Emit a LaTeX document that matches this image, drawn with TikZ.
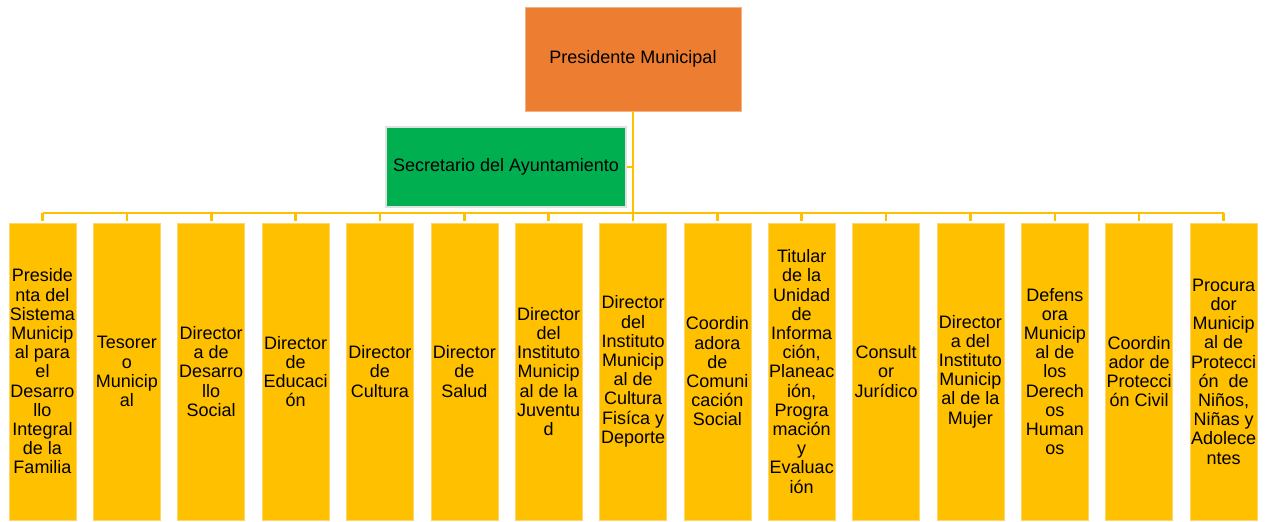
\documentclass[tikz,border=0pt]{standalone}
\usepackage{fontspec}
\setmainfont{Liberation Sans}
\usetikzlibrary{positioning}
\definecolor{orgorange}{RGB}{237,125,49}
\definecolor{orggreen}{RGB}{0,176,80}
\definecolor{orgyellow}{RGB}{255,192,0}
\definecolor{orgedge}{RGB}{255,214,110}

\begin{document}
\begin{tikzpicture}[x=1pt,y=-1pt,
    every node/.style={align=center,inner sep=0pt,font=\fontsize{18}{19.2}\selectfont},
    unitbox/.style={fill=orgyellow,draw=orgedge,line width=0.6pt,minimum width=67pt,minimum height=297pt},
    linkline/.style={draw=orgyellow,line width=2.6pt}]
  \useasboundingbox (0,0) rectangle (1267,522);
  \node[fill=orgorange,draw=orgorange!60!white,line width=0.6pt,minimum width=216pt,minimum height=104pt] (pres) at (633,59) {Presidente Municipal};
  \node[fill=orggreen,draw=black!12,line width=2pt,minimum width=240pt,minimum height=80pt] (secr) at (506,167) {Secretario del Ayuntamiento};
  \coordinate (hub) at (633,213);
  % direcciones
  \foreach \txt [count=\i] in {
      {Preside\\nta del\\Sistema\\Municip\\al para\\el\\Desarro\\llo\\Integral\\de la\\Familia},
      {Tesorer\\o\\Municip\\al},
      {Director\\a de\\Desarro\\llo\\Social},
      {Director\\de\\Educaci\\ón},
      {Director\\de\\Cultura},
      {Director\\de\\Salud},
      {Director\\del\\Instituto\\Municip\\al de la\\Juventu\\d},
      {Director\\del\\Instituto\\Municip\\al de\\Cultura\\Fisíca y\\Deporte},
      {Coordin\\adora\\de\\Comuni\\cación\\Social},
      {Titular\\de la\\Unidad\\de\\Informa\\ción,\\Planeac\\ión,\\Progra\\mación\\y\\Evaluac\\ión},
      {Consult\\or\\Jurídico},
      {Director\\a del\\Instituto\\Municip\\al de la\\Mujer},
      {Defens\\ora\\Municip\\al de\\los\\Derech\\os\\Human\\os},
      {Coordin\\ador de\\Protecci\\ón Civil},
      {Procura\\dor\\Municip\\al de\\Protecci\\ón~ de\\Niños,\\Niñas y\\Adolece\\ntes}}
    \node[unitbox] (dep\i) at ({42.5+84.36*(\i-1)},371.5) {\txt};
  \draw[linkline] (pres.south) -- (hub);
  \draw[linkline] (secr.east) -- (secr.east -| hub);
  \draw[linkline] (dep1.north |- hub) -- (dep15.north |- hub);
  \foreach \i in {1,...,15}
    \draw[linkline,shorten >=2pt] (dep\i.north |- hub) -- (dep\i.north);
\end{tikzpicture}
\end{document}
